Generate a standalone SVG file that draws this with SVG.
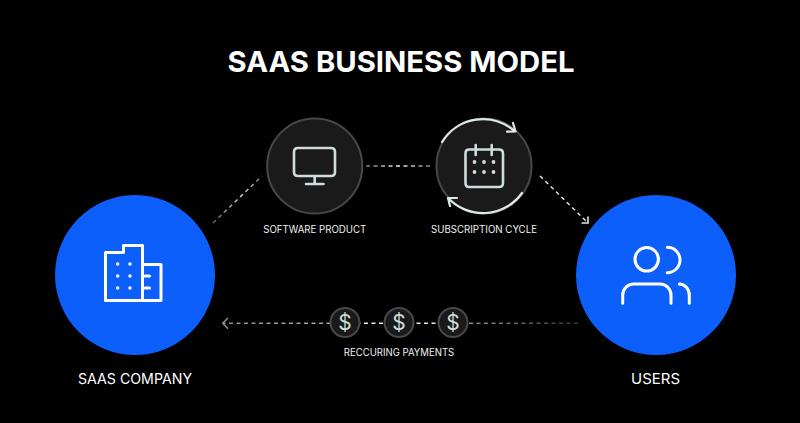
<svg xmlns="http://www.w3.org/2000/svg" width="800" height="423" viewBox="0 0 800 423">
<defs>
<linearGradient id="fadeLeft" gradientUnits="userSpaceOnUse" x1="213" y1="223" x2="262" y2="176"><stop offset="0" stop-color="#666"/><stop offset="0.6" stop-color="#ddd"/><stop offset="1" stop-color="#777"/></linearGradient>
<linearGradient id="fadeMid" gradientUnits="userSpaceOnUse" x1="366" y1="166" x2="433" y2="166"><stop offset="0" stop-color="#777"/><stop offset="0.5" stop-color="#eee"/><stop offset="1" stop-color="#777"/></linearGradient>
<linearGradient id="fadeBottom" gradientUnits="userSpaceOnUse" x1="224" y1="323" x2="578" y2="323"><stop offset="0" stop-color="#888"/><stop offset="0.3" stop-color="#aaa"/><stop offset="0.36" stop-color="#eee"/><stop offset="0.64" stop-color="#eee"/><stop offset="0.7" stop-color="#888"/><stop offset="1" stop-color="#333"/></linearGradient>
</defs>
<style>
text{font-family:Inter,"Liberation Sans",sans-serif;fill:#fff;text-anchor:middle}
.title{font-size:29px;font-weight:700}
.big{font-size:14px;font-weight:400}
.small{font-size:10px;font-weight:400;fill:#eef2f2}
.blue{fill:#0d5ffb}
.dark{fill:#1a1a1a;stroke:#484848;stroke-width:2}
.ico{fill:none;stroke:#cfdcdc;stroke-width:2.6;stroke-linecap:round;stroke-linejoin:round}
.wico{fill:none;stroke:#fff;stroke-width:3;stroke-linecap:round;stroke-linejoin:round}
.dash{fill:none;stroke-width:1.4;stroke-dasharray:4 3.500}
.head{fill:none;stroke:#dfe6e6;stroke-width:1.600}
.ring{fill:none;stroke:#dfe8e8;stroke-width:2.200;stroke-linecap:round;stroke-linejoin:round}
.dollar{font-size:21px;fill:#cfdcdc}
</style>
<rect width="800" height="423" fill="#000"/>
<text class="title" x="401" y="72" textLength="347" lengthAdjust="spacingAndGlyphs">SAAS BUSINESS MODEL</text>
<g id="connectors">
<path class="dash" stroke="url(#fadeLeft)" d="M213 223L262 176"/>
<path class="dash" stroke="url(#fadeMid)" d="M366 166H433"/>
<path class="dash" stroke="#e4e8e8" d="M540 176L586 221"/>
<path class="head" d="M588 216.500V223H581.500"/>
<path class="dash" stroke="url(#fadeBottom)" d="M578 323.300H224"/>
<path class="head" stroke-opacity="0.6" d="M228 318L222.700 323.300L228 328.600"/>
</g>
<g id="saas-company">
<circle class="blue" cx="135" cy="275" r="80"/>
<path class="wico" d="M105.500 252.500H123.500V245.500H142.500V300.500H105.500ZM142.500 264.500H161V300.500H142.500M145 276H149.500M145 288H149.500"/>
<g fill="#fff"><circle cx="117.700" cy="264" r="1.700"/><circle cx="130" cy="264" r="1.700"/><circle cx="117.700" cy="276" r="1.700"/><circle cx="130" cy="276" r="1.700"/><circle cx="117.700" cy="288" r="1.700"/><circle cx="130" cy="288" r="1.700"/></g>
<text class="big" x="135" y="384" textLength="114" lengthAdjust="spacingAndGlyphs">SAAS COMPANY</text>
</g>
<g id="software-product">
<circle class="dark" cx="314.700" cy="166" r="47.500"/>
<path class="ico" d="M298 148H331Q335 148 335 152V172Q335 176 331 176H298Q294 176 294 172V152Q294 148 298 148ZM314.700 176V184M306 184H323.500"/>
<text class="small" x="314.700" y="233" textLength="103" lengthAdjust="spacingAndGlyphs">SOFTWARE PRODUCT</text>
</g>
<g id="subscription-cycle">
<circle class="dark" cx="484" cy="166" r="47.500"/>
<path class="ring" d="M442 142A48 48 0 0 1 515 131.500M513 123L515.500 131.500L507 131.700M522 193A48 48 0 0 1 448 198M457 198L448 198L450 206"/>
<path class="ico" d="M469 149.500H499Q503 149.500 503 153.500V183Q503 187 499 187H469Q465.500 187 465.500 183V153.500Q465.500 149.500 469 149.500ZM475.700 145V155M491.700 145V155"/>
<g fill="#cfdcdc"><circle cx="474.500" cy="162" r="1.900"/><circle cx="484" cy="162" r="1.900"/><circle cx="493.500" cy="162" r="1.900"/><circle cx="474.500" cy="172" r="1.900"/><circle cx="484" cy="172" r="1.900"/><circle cx="493.500" cy="172" r="1.900"/></g>
<text class="small" x="484" y="233" textLength="106" lengthAdjust="spacingAndGlyphs">SUBSCRIPTION CYCLE</text>
</g>
<g id="users">
<circle class="blue" cx="656" cy="275" r="80"/>
<path class="wico" d="M667.300 247.300A12.700 12.700 0 0 1 667.300 272.700M622.700 303.300V295A11 11 0 0 1 633.700 284H660A11 11 0 0 1 671 295V303.300M679.300 284A10 11 0 0 1 689.300 295V303.300"/>
<circle class="wico" cx="646.700" cy="259.300" r="11.700"/>
<text class="big" x="655.500" y="384" textLength="49" lengthAdjust="spacingAndGlyphs">USERS</text>
</g>
<g id="payment-1"><circle class="dark" cx="345" cy="322.500" r="14.500"/><text class="dollar" x="345" y="330">$</text></g>
<g id="payment-2"><circle class="dark" cx="399" cy="322.500" r="14.500"/><text class="dollar" x="399" y="330">$</text></g>
<g id="payment-3"><circle class="dark" cx="453" cy="322.500" r="14.500"/><text class="dollar" x="453" y="330">$</text></g>
<text class="small" x="399" y="356" textLength="110.500" lengthAdjust="spacingAndGlyphs">RECCURING PAYMENTS</text>
</svg>
